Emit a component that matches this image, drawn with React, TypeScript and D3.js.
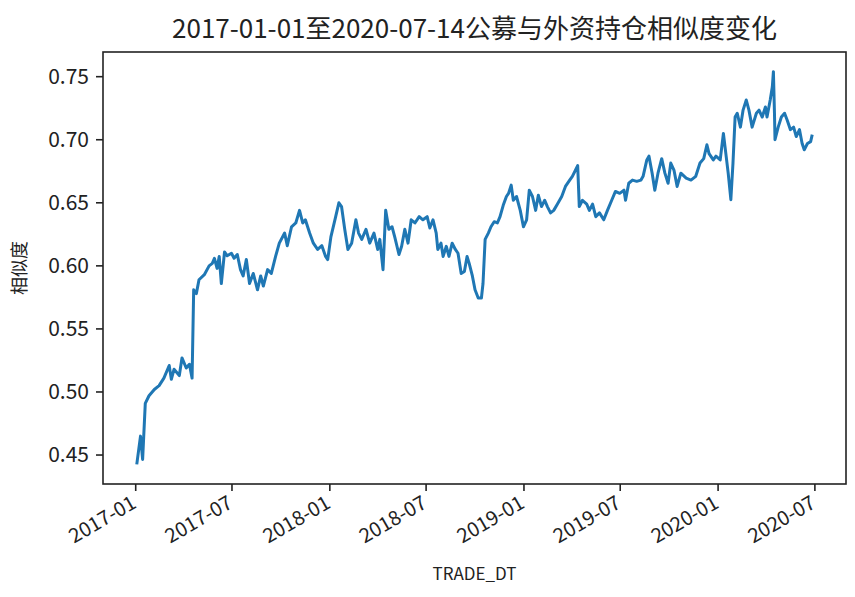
import React from "react";
import * as d3 from "d3";

const dates: string[] = [
  "2017-01-03","2017-01-10","2017-01-14","2017-01-19","2017-01-26","2017-02-05","2017-02-14","2017-02-23","2017-03-05","2017-03-09",
  "2017-03-14","2017-03-24","2017-03-29","2017-04-06","2017-04-12","2017-04-17","2017-04-20","2017-04-25","2017-04-30","2017-05-10",
  "2017-05-19","2017-05-25","2017-05-29","2017-06-03","2017-06-07","2017-06-11","2017-06-17","2017-06-22","2017-06-30","2017-07-05",
  "2017-07-11","2017-07-17","2017-07-22","2017-07-28","2017-08-03","2017-08-10","2017-08-18","2017-08-24","2017-08-29","2017-09-06",
  "2017-09-13","2017-09-21","2017-09-28","2017-10-08","2017-10-13","2017-10-21","2017-10-29","2017-11-05","2017-11-11","2017-11-16",
  "2017-11-24","2017-12-01","2017-12-09","2017-12-17","2017-12-24","2017-12-28","2018-01-03","2018-01-12","2018-01-18","2018-01-23",
  "2018-01-29","2018-02-04","2018-02-11","2018-02-19","2018-02-24","2018-03-02","2018-03-10","2018-03-17","2018-03-25","2018-04-01",
  "2018-04-05","2018-04-11","2018-04-16","2018-04-22","2018-04-28","2018-05-03","2018-05-11","2018-05-16","2018-05-22","2018-05-28",
  "2018-06-03","2018-06-10","2018-06-18","2018-06-25","2018-07-03","2018-07-08","2018-07-14","2018-07-20","2018-07-23","2018-07-29",
  "2018-08-02","2018-08-08","2018-08-13","2018-08-19","2018-08-25","2018-08-30","2018-09-05","2018-09-11","2018-09-16","2018-09-20",
  "2018-09-26","2018-10-01","2018-10-07","2018-10-13","2018-10-16","2018-10-20","2018-10-26","2018-10-31","2018-11-06","2018-11-12",
  "2018-11-17","2018-11-23","2018-11-29","2018-12-03","2018-12-08","2018-12-12","2018-12-18","2018-12-25","2018-12-31","2019-01-06",
  "2019-01-11","2019-01-17","2019-01-23","2019-01-28","2019-02-03","2019-02-09","2019-02-14","2019-02-20","2019-02-26","2019-03-05",
  "2019-03-13","2019-03-20","2019-03-28","2019-04-02","2019-04-08","2019-04-12","2019-04-15","2019-04-21","2019-04-29","2019-05-04",
  "2019-05-10","2019-05-16","2019-05-23","2019-05-31","2019-06-07","2019-06-15","2019-06-22","2019-06-30","2019-07-08","2019-07-11",
  "2019-07-17","2019-07-24","2019-08-01","2019-08-09","2019-08-13","2019-08-20","2019-08-24","2019-08-30","2019-09-04","2019-09-10",
  "2019-09-17","2019-09-23","2019-09-29","2019-10-04","2019-10-10","2019-10-16","2019-10-23","2019-11-02","2019-11-11","2019-11-20",
  "2019-11-28","2019-12-05","2019-12-11","2019-12-15","2019-12-23","2019-12-28","2020-01-05","2020-01-11","2020-01-14","2020-01-20",
  "2020-01-25","2020-01-29","2020-02-02","2020-02-06","2020-02-12","2020-02-17","2020-02-23","2020-02-28","2020-03-05","2020-03-13",
  "2020-03-18","2020-03-24","2020-03-30","2020-04-02","2020-04-08","2020-04-12","2020-04-14","2020-04-16","2020-04-17","2020-04-23",
  "2020-04-29","2020-05-05","2020-05-10","2020-05-16","2020-05-22","2020-05-27","2020-06-02","2020-06-07","2020-06-11","2020-06-17",
  "2020-06-23","2020-06-26"
];

const similarity: number[] = [
  0.4426,0.465,0.4465,0.491,0.497,0.502,0.505,0.511,0.521,0.510,
  0.518,0.513,0.527,0.519,0.522,0.511,0.581,0.578,0.589,0.593,
  0.600,0.602,0.606,0.598,0.6075,0.586,0.611,0.608,0.610,0.606,
  0.609,0.597,0.592,0.605,0.586,0.594,0.581,0.592,0.584,0.597,
  0.594,0.6075,0.618,0.626,0.616,0.631,0.634,0.644,0.634,0.6365,
  0.626,0.618,0.613,0.616,0.6075,0.605,0.623,0.639,0.650,0.647,
  0.629,0.613,0.618,0.6365,0.626,0.621,0.629,0.618,0.626,0.613,
  0.621,0.597,0.644,0.629,0.631,0.623,0.609,0.6155,0.629,0.618,
  0.6365,0.634,0.639,0.6365,0.639,0.630,0.6365,0.626,0.613,0.618,
  0.6075,0.6155,0.6075,0.618,0.613,0.610,0.594,0.5955,0.6075,0.602,
  0.592,0.581,0.5745,0.5745,0.586,0.621,0.626,0.631,0.635,0.634,
  0.639,0.648,0.655,0.6575,0.664,0.652,0.655,0.644,0.631,0.6365,
  0.660,0.655,0.644,0.656,0.647,0.652,0.647,0.642,0.644,0.649,
  0.655,0.663,0.668,0.671,0.676,0.6795,0.647,0.652,0.649,0.644,
  0.649,0.639,0.642,0.6365,0.644,0.652,0.659,0.6575,0.660,0.652,
  0.6655,0.668,0.667,0.668,0.671,0.684,0.687,0.6735,0.660,0.6735,
  0.685,0.6735,0.6655,0.6815,0.676,0.663,0.6735,0.6695,0.668,0.671,
  0.6815,0.685,0.696,0.689,0.684,0.687,0.684,0.705,0.6945,0.6735,
  0.6525,0.6815,0.718,0.721,0.710,0.7235,0.7315,0.7235,0.710,0.721,
  0.7235,0.718,0.726,0.718,0.7315,0.742,0.754,0.721,0.700,0.710,
  0.718,0.721,0.7155,0.708,0.710,0.7025,0.708,0.697,0.692,0.697,
  0.6985,0.704
];

const yTicks: number[] = [0.45, 0.5, 0.55, 0.6, 0.65, 0.7, 0.75];
const xTickLabels: string[] = ["2017-01","2017-07","2018-01","2018-07","2019-01","2019-07","2020-01","2020-07"];

const titleText = "2017-01-01至2020-07-14公募与外资持仓相似度变化";
const yLabel = "相似度";
const xLabel = "TRADE_DT";

const W = 855, H = 597;
const M = { left: 103, right: 846, top: 52, bottom: 484 };
const FONT = "'Noto Sans CJK SC', 'Noto Sans', sans-serif";

export default function App() {
  const parse = d3.timeParse("%Y-%m-%d");
  const data = dates.map((d, i) => ({ date: parse(d) as Date, v: similarity[i] }));
  const ext = d3.extent(data, d => d.date.getTime()) as [number, number];
  const padX = (ext[1] - ext[0]) * 0.05;
  const x = d3.scaleTime()
    .domain([new Date(ext[0] - padX), new Date(ext[1] + padX)])
    .range([M.left, M.right]);
  const vext = d3.extent(similarity) as [number, number];
  const padY = (vext[1] - vext[0]) * 0.05;
  const y = d3.scaleLinear()
    .domain([vext[0] - padY, vext[1] + padY])
    .range([M.bottom, M.top]);
  const line = d3.line<{ date: Date; v: number }>()
    .x(d => x(d.date))
    .y(d => y(d.v));
  const parseM = d3.timeParse("%Y-%m");
  const xTicks = xTickLabels.map(s => ({ label: s, date: parseM(s) as Date }));

  return (
    <svg width={W} height={H} style={{ position: "absolute", left: 0, top: 0, background: "#fff" }}
      fontFamily={FONT}>
      <rect x={0} y={0} width={W} height={H} fill="#fff" />
      <text x={(M.left + M.right) / 2} y={38} textAnchor="middle" fontSize={26} fill="#222">{titleText}</text>
      <path d={line(data) || ""} fill="none" stroke="#1f77b4" strokeWidth={3} strokeLinejoin="round" />
      <rect x={M.left} y={M.top} width={M.right - M.left} height={M.bottom - M.top}
        fill="none" stroke="#222" strokeWidth={1.6} />
      {yTicks.map(t => (
        <g key={t}>
          <line x1={M.left - 7} x2={M.left} y1={y(t)} y2={y(t)} stroke="#222" strokeWidth={1.6} />
          <text x={M.left - 14} y={y(t)} dy="0.35em" textAnchor="end" fontSize={21} fill="#222">{t.toFixed(2)}</text>
        </g>
      ))}
      {xTicks.map(t => (
        <g key={t.label}>
          <line x1={x(t.date)} x2={x(t.date)} y1={M.bottom} y2={M.bottom + 7} stroke="#222" strokeWidth={1.6} />
          <text transform={`translate(${x(t.date) + 2},${M.bottom + 23}) rotate(-30)`} textAnchor="end"
            fontSize={20} fill="#222">{t.label}</text>
        </g>
      ))}
      <text x={(M.left + M.right) / 2} y={580} textAnchor="middle" fontSize={17} fill="#222">{xLabel}</text>
      <text transform={`translate(26,${(M.top + M.bottom) / 2}) rotate(-90)`} textAnchor="middle" fontSize={18} fill="#222">{yLabel}</text>
    </svg>
  );
}
